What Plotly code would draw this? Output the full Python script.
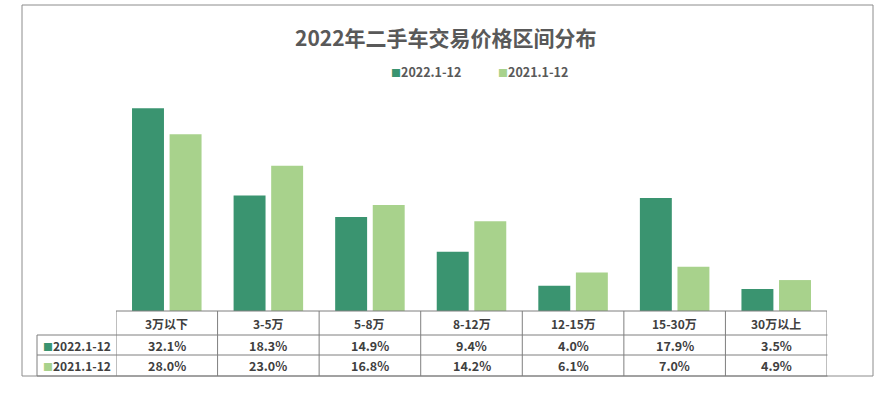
import plotly.graph_objects as go

title = "2022年二手车交易价格区间分布"
categories = ["3万以下", "3-5万", "5-8万", "8-12万", "12-15万", "15-30万", "30万以上"]
series_names = ["2022.1-12", "2021.1-12"]
values_2022 = [32.1, 18.3, 14.9, 9.4, 4.0, 17.9, 3.5]
values_2021 = [28.0, 23.0, 16.8, 14.2, 6.1, 7.0, 4.9]
colors = ["#3A9470", "#A8D28C"]

W, H = 896, 398
FONT = "Noto Sans CJK SC"
TXT = "#404040"
GREY = "#595959"
LINE = "#7f7f7f"


def px(x):
    return x / W


def py(y):
    return (H - y) / H


fig = go.Figure()
for name, vals, col in zip(series_names, [values_2022, values_2021], colors):
    fig.add_trace(go.Bar(x=categories, y=vals, name=name, marker=dict(color=col, line=dict(width=0)),
                         hoverinfo="x+y+name"))

shapes = []
# outer frame
shapes.append(dict(type="rect", xref="paper", yref="paper", x0=px(22), x1=px(873), y0=py(376), y1=py(5),
                   line=dict(color="#8c8c8c", width=1), layer="below"))
# table horizontal lines
shapes.append(dict(type="line", xref="x", yref="paper", x0=-0.5, x1=len(categories) - 0.5,
                   y0=py(311), y1=py(311), line=dict(color=LINE, width=1)))
for yy in [335, 355, 376]:
    shapes.append(dict(type="line", xref="paper", yref="paper", x0=px(37), x1=px(827.5),
                       y0=py(yy), y1=py(yy), line=dict(color=LINE, width=1)))
# vertical lines at category boundaries
for i in range(len(categories) + 1):
    shapes.append(dict(type="line", xref="x", yref="paper", x0=i - 0.5, x1=i - 0.5,
                       y0=py(376), y1=py(311), line=dict(color=LINE, width=1)))
shapes.append(dict(type="line", xref="paper", yref="paper", x0=px(37), x1=px(37),
                   y0=py(376), y1=py(335), line=dict(color=LINE, width=1)))

ann = []
ann.append(dict(text=title, x=px(446), y=py(37), xref="paper", yref="paper", showarrow=False,
                xanchor="center", yanchor="middle",
                font=dict(family=FONT, size=21, color=GREY, weight="bold")))
# legend
for name, col, lx in zip(series_names, colors, [389, 496]):
    ann.append(dict(text=f'<span style="color:{col};font-size:10px">■</span>{name}', x=px(lx), y=py(71),
                    xref="paper", yref="paper", showarrow=False, xanchor="left", yanchor="middle",
                    font=dict(family=FONT, size=12.5, color=GREY, weight="bold")))
# table header
for c in categories:
    ann.append(dict(text=c, x=c, y=py(323), xref="x", yref="paper", showarrow=False,
                    xanchor="center", yanchor="middle",
                    font=dict(family=FONT, size=12, color=TXT, weight="bold")))
# table rows
for name, vals, col, yy in zip(series_names, [values_2022, values_2021], colors, [345, 365.5]):
    ann.append(dict(text=f'<span style="color:{col};font-size:10px">■</span>{name}', x=px(41), y=py(yy),
                    xref="paper", yref="paper", showarrow=False, xanchor="left", yanchor="middle",
                    font=dict(family=FONT, size=12, color=TXT, weight="bold")))
    for c, v in zip(categories, vals):
        ann.append(dict(text=f"{v:.1f}%", x=c, y=py(yy), xref="x", yref="paper", showarrow=False,
                        xanchor="center", yanchor="middle",
                        font=dict(family=FONT, size=12.5, color=TXT, weight="bold")))

fig.update_layout(
    width=W, height=H,
    margin=dict(l=0, r=0, t=0, b=0),
    paper_bgcolor="white", plot_bgcolor="white",
    showlegend=False,
    barmode="group", bargap=0.26, bargroupgap=0.15,
    xaxis=dict(domain=[px(116), px(827)], type="category", range=[-0.5, len(categories) - 0.5],
               showticklabels=False, showgrid=False, zeroline=False, showline=False, ticks=""),
    yaxis=dict(domain=[py(311), py(90)], range=[0, 35], showticklabels=False, showgrid=False,
               zeroline=False, showline=False, ticks=""),
    shapes=shapes,
    annotations=ann,
)

fig.write_html("out.html", config={"displayModeBar": False},
               post_script="document.body.style.margin='0';document.body.style.overflow='hidden';")
